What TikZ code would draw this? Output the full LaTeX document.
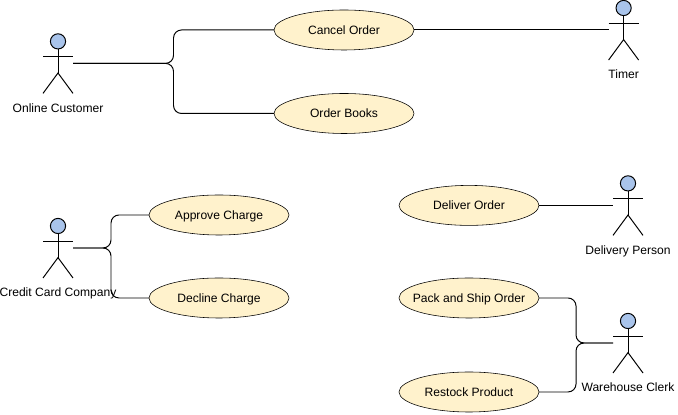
\documentclass[tikz,border=0pt]{standalone}
\usepackage{fontspec}
\setmainfont{Liberation Sans}
\usetikzlibrary{positioning,calc,shapes.geometric}

\definecolor{headblue}{HTML}{A9C4EB}
\definecolor{casefill}{HTML}{FFF2CC}

% Stick figure inside an empty box node
\newcommand{\drawactor}[1]{
  \draw[actorline, fill=headblue] ($(#1.north)+(0,-0.2)$) circle (0.19);
  \draw[actorline] ($(#1.north)+(0,-0.39)$) -- ($(#1.north)+(0,-0.99)$);
  \draw[actorline] ($(#1.north west)+(0,-0.58)$) -- ($(#1.north east)+(0,-0.58)$);
  \draw[actorline] (#1.south west) -- ($(#1.north)+(0,-0.99)$) -- (#1.south east);
}

\begin{document}
\begin{tikzpicture}[
  font=\fontsize{8.6}{10}\selectfont,
  usecase/.style={draw=black, fill=casefill, ellipse, inner xsep=-0.5cm, inner ysep=0pt, outer sep=0pt, minimum width=3.5cm, minimum height=1.0cm, text height=6.2pt, text depth=0pt},
  actor/.style={inner sep=0pt, outer sep=0pt, minimum width=0.75cm, minimum height=1.5cm},
  actorname/.style={inner sep=0pt, text height=6.2pt, text depth=1.8pt, below=0.25cm of #1},
  actorline/.style={draw=black, line width=0.7pt},
  link/.style={draw=black, line width=0.7pt, rounded corners=0.2cm}
]

\useasboundingbox (0, 0) rectangle (16.95, 10.375);

% ==================== Actors ====================
\node[actor] (customer) at (1.45, 8.79) {};
\node[actor] (timer) at (15.59, 9.625) {};
\node[actor] (bank) at (1.45, 4.175) {};
\node[actor] (courier) at (15.70, 5.24) {};
\node[actor] (clerk) at (15.70, 1.80) {};

\drawactor{customer}
\drawactor{timer}
\drawactor{bank}
\drawactor{courier}
\drawactor{clerk}

\node[actorname=customer] (customerName) {Online Customer};
\node[actorname=timer] (timerName) {Timer};
\node[actorname=bank] (bankName) {Credit Card Company};
\node[actorname=courier] (courierName) {Delivery Person};
\node[actorname=clerk] (clerkName) {Warehouse Clerk};

% ==================== Use cases ====================
\node[usecase] (cancel) at (8.6, 9.625) {Cancel Order};
\node[usecase] (books) at (8.6, 7.5375) {Order Books};
\node[usecase] (approve) at (5.475, 5.0) {Approve Charge};
\node[usecase] (decline) at (5.475, 2.925) {Decline Charge};
\node[usecase] (deliver) at (11.725, 5.24) {Deliver Order};
\node[usecase] (pack) at (11.725, 2.925) {Pack and Ship Order};
\node[usecase] (restock) at (11.725, 0.575) {Restock Product};

% ==================== Connectors ====================
\draw[link] (customer.east) -| ($(customer.east)!0.5!(cancel.west)$) |- (cancel.west);
\draw[link] (customer.east) -| ($(customer.east)!0.5!(books.west)$) |- (books.west);
\draw[link] (cancel.east) -- (timer.west);
\draw[link] (bank.east) -| ($(bank.east)!0.5!(approve.west)$) |- (approve.west);
\draw[link] (bank.east) -| ($(bank.east)!0.5!(decline.west)$) |- (decline.west);
\draw[link] (deliver.east) -- (courier.west);
\draw[link] (pack.east) -| ($(pack.east)!0.5!(clerk.west)$) |- (clerk.west);
\draw[link] (restock.east) -| ($(restock.east)!0.5!(clerk.west)$) |- (clerk.west);

\end{tikzpicture}
\end{document}
